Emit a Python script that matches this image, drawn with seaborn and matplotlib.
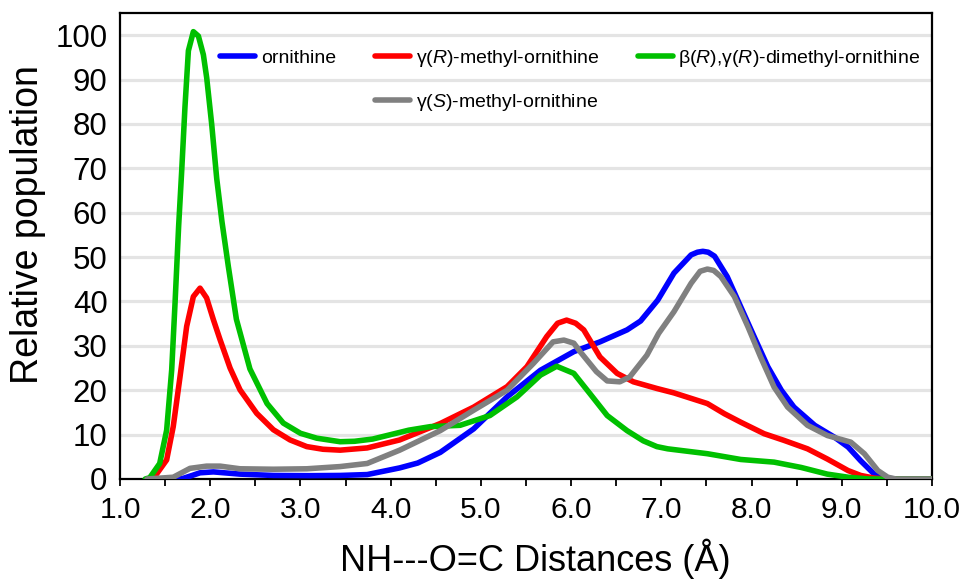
import matplotlib
matplotlib.use("Agg")
import matplotlib.pyplot as plt
from matplotlib.lines import Line2D
import seaborn as sns
import pandas as pd
import numpy as np

# ---------------- data ----------------
orn_x = [1.3, 1.6, 1.7, 1.8, 1.887, 2.035, 2.33, 2.7, 3.1, 3.44, 3.74, 4.1, 4.3, 4.55, 4.92, 5.29,
         5.66, 6.03, 6.32, 6.62, 6.77, 6.96, 7.14, 7.33, 7.4, 7.46, 7.52, 7.59, 7.73, 7.88, 8.03,
         8.18, 8.33, 8.47, 8.7, 8.92, 9.07, 9.21, 9.36, 9.47, 9.6, 10.0]
orn_y = [0, 0, 0.15, 0.8, 1.4, 1.6, 1.1, 0.8, 0.75, 0.8, 1.0, 2.5, 3.6, 6.0, 11.3, 18.5,
         24.5, 28.7, 30.9, 33.6, 35.6, 40.3, 46.4, 50.5, 51.1, 51.3, 51.1, 50.2, 45.6, 38.8, 32.0,
         25.3, 20.0, 16.2, 12.1, 9.4, 7.2, 4.1, 1.1, 0.2, 0, 0]

gR_x = [1.3, 1.37, 1.517, 1.59, 1.665, 1.739, 1.813, 1.887, 1.96, 2.035, 2.109, 2.22, 2.33,
        2.515, 2.7, 2.885, 3.07, 3.25, 3.44, 3.74, 4.1, 4.55, 4.92, 5.29, 5.51, 5.73, 5.85,
        5.95, 6.05, 6.14, 6.32, 6.51, 6.69, 6.95, 7.14, 7.51, 7.7, 7.88, 8.14, 8.36, 8.62, 8.84,
        9.07, 9.21, 9.36, 9.5, 10.0]
gR_y = [0, 0.1, 4.3, 11.8, 23.0, 34.4, 41.1, 43.0, 40.8, 35.9, 31.4, 25.0, 20.1,
        14.8, 11.1, 8.8, 7.3, 6.7, 6.5, 7.0, 8.8, 12.5, 16.2, 20.8, 25.3, 32.1, 35.1,
        35.8, 35.1, 33.6, 27.5, 23.8, 21.9, 20.4, 19.4, 17.0, 14.7, 12.8, 10.2, 8.7, 6.8, 4.5,
        1.9, 0.8, 0.2, 0, 0]

bRgR_x = [1.28, 1.33, 1.44, 1.517, 1.573, 1.61, 1.65, 1.684, 1.72, 1.758, 1.813, 1.869, 1.924,
          1.961, 2.017, 2.072, 2.13, 2.2, 2.29, 2.44, 2.63, 2.81, 3.0, 3.18, 3.44, 3.6, 3.8,
          4.0, 4.2, 4.44, 4.77, 5.1, 5.4, 5.66, 5.84, 6.03, 6.21, 6.4, 6.62, 6.8, 6.95, 7.07,
          7.51, 7.88, 8.25, 8.55, 8.84, 9.07, 9.3, 10.0]
bRgR_y = [0, 0.3, 3.5, 11.0, 24.6, 39.6, 57.0, 69.5, 83.8, 96.5, 100.8, 99.8, 95.6,
          90.4, 79.8, 67.7, 58.0, 48.0, 36.0, 24.8, 17.0, 12.6, 10.3, 9.2, 8.4, 8.5, 9.0,
          10.0, 11.0, 11.8, 12.1, 14.3, 18.5, 23.4, 25.4, 23.8, 19.2, 14.3, 10.9, 8.6, 7.3, 6.8,
          5.7, 4.4, 3.8, 2.6, 1.1, 0.4, 0, 0]

gS_x = [1.3, 1.59, 1.776, 1.96, 2.11, 2.33, 2.7, 3.07, 3.44, 3.74, 4.1, 4.55, 4.92, 5.29,
        5.58, 5.8, 5.92, 6.03, 6.1, 6.28, 6.4, 6.54, 6.65, 6.84, 6.97, 7.14, 7.33, 7.43, 7.51,
        7.58, 7.66, 7.81, 7.96, 8.1, 8.25, 8.4, 8.62, 8.84, 9.1, 9.25, 9.4, 9.51, 9.6, 10.0]
gS_y = [0, 0.4, 2.4, 2.9, 2.9, 2.3, 2.2, 2.3, 2.8, 3.5, 6.5, 10.9, 15.5, 20.0,
        26.0, 30.9, 31.3, 30.6, 28.7, 24.2, 22.1, 21.9, 23.0, 27.9, 32.8, 37.7, 44.1, 46.8, 47.3,
        47.0, 45.6, 41.1, 34.3, 27.5, 20.7, 16.2, 12.1, 9.8, 8.3, 5.7, 1.9, 0.4, 0, 0]

series_names = ["ornithine", "gR", "bRgR", "gS"]
legend_labels = ["ornithine",
                 "γ($\\mathit{R}$)-methyl-ornithine",
                 "β($\\mathit{R}$),γ($\\mathit{R}$)-dimethyl-ornithine",
                 "γ($\\mathit{S}$)-methyl-ornithine"]
colors = ["#0000ff", "#ff0000", "#00c000", "#808080"]
x_ticks = [1.0, 2.0, 3.0, 4.0, 5.0, 6.0, 7.0, 8.0, 9.0, 10.0]
y_ticks = [0, 10, 20, 30, 40, 50, 60, 70, 80, 90, 100]

# ---------------- build long-form table ----------------
frames = []
for name, xs, ys in zip(series_names, [orn_x, gR_x, bRgR_x, gS_x], [orn_y, gR_y, bRgR_y, gS_y]):
    frames.append(pd.DataFrame({"x": xs, "y": ys, "series": name}))
df = pd.concat(frames, ignore_index=True)

# ---------------- style ----------------
sns.set_theme(style="white")
plt.rcParams["font.family"] = ["Liberation Sans", "DejaVu Sans"]
plt.rcParams["text.color"] = "black"
plt.rcParams["axes.labelcolor"] = "black"
plt.rcParams["xtick.color"] = "black"
plt.rcParams["ytick.color"] = "black"
plt.rcParams["mathtext.fontset"] = "custom"
plt.rcParams["mathtext.rm"] = "Liberation Sans"
plt.rcParams["mathtext.it"] = "Liberation Sans:italic"

fig = plt.figure(figsize=(9.67, 5.8), dpi=100)
ax = fig.add_axes([120 / 967, 1 - 479 / 580, 812 / 967, 466 / 580])

# gridlines
ax.set_axisbelow(True)
for yv in y_ticks[1:]:
    ax.axhline(yv, color="#e4e4e4", lw=2.3, zorder=0)

sns.lineplot(data=df, x="x", y="y", hue="series", hue_order=series_names,
             palette=colors, sort=False, estimator=None, units="series",
             linewidth=4.0, legend=False, ax=ax, zorder=3)
for ln in ax.get_lines():
    ln.set_solid_joinstyle("round")
    ln.set_solid_capstyle("round")

ax.set_xlim(1.0, 10.0)
ax.set_ylim(0, 105)
ax.set_xticks(x_ticks)
ax.set_xticklabels([f"{v:.1f}" for v in x_ticks])
ax.set_xticks(np.arange(1.5, 10.0, 1.0), minor=True)
ax.set_yticks(y_ticks)
ax.set_yticklabels([str(v) for v in y_ticks])

for lab in ax.get_xticklabels():
    lab.set_fontsize(21.5)
    lab.set_color("black")
for lab in ax.get_yticklabels():
    lab.set_fontsize(22.5)
    lab.set_color("black")

ax.tick_params(axis="x", which="both", direction="out", length=5, width=1.3,
               color="black", bottom=True, pad=7)
ax.tick_params(axis="y", which="both", length=0, pad=9)

for sp in ax.spines.values():
    sp.set_visible(True)
    sp.set_color("black")
    sp.set_linewidth(1.6)

ax.set_xlabel("NH---O=C Distances (Å)", fontsize=26, color="black")
ax.set_ylabel("Relative population", fontsize=27, color="black")
ax.xaxis.set_label_coords(0.512, -0.128)
ax.yaxis.set_label_coords(-0.091, 0.545)

# legend: row1 = ornithine, γ(R), β(R)γ(R); row2 = γ(S) under column 2
h = [Line2D([], [], color=c, lw=4.0, solid_capstyle="round") for c in colors]
blank = Line2D([], [], color="none")
handles = [h[0], blank, h[1], h[3], h[2]]
labels = [legend_labels[0], "", legend_labels[1], legend_labels[3], legend_labels[2]]
leg = ax.legend(handles, labels, ncol=3, loc="upper left", bbox_to_anchor=(0.123, 0.925),
                frameon=False, fontsize=14, handlelength=1.8, handletextpad=0.3,
                columnspacing=2.0, labelspacing=1.2, borderpad=0, borderaxespad=0)
for t in leg.get_texts():
    t.set_color("black")

fig.savefig("out.png", dpi=100)
